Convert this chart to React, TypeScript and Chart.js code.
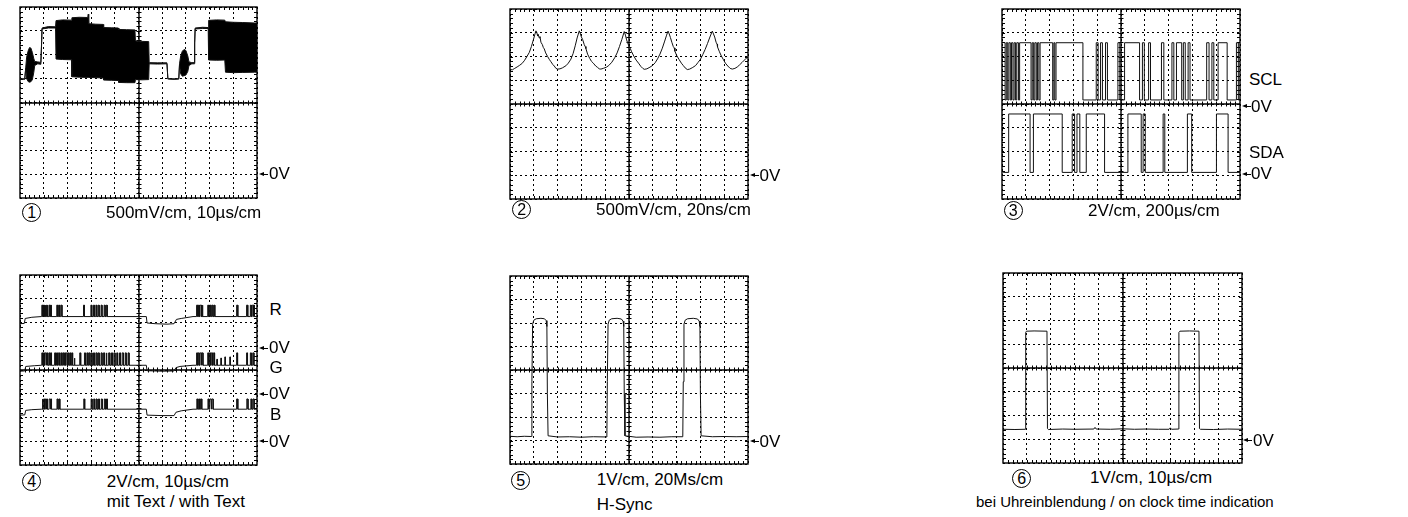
import React, { useEffect, useRef } from "react";
import { Chart, registerables } from "chart.js";

Chart.register(...registerables);

type Pt = { x: number; y: number };

// ---------- Panel 1: video signal envelope (divisions: x 0..10, y 0..8) ----------
const p1X = [0, 0.2, 0.24, 0.28, 0.34, 0.4, 0.46, 0.52, 0.58, 0.62,
  0.75, 0.88, 0.91, 0.93, 1.2, 1.5, 1.52, 1.8, 2.17, 2.19,
  2.5, 2.86, 2.88, 2.9, 3.2, 3.51, 3.53, 3.85, 4.15, 4.17,
  4.5, 4.85, 4.87, 5.15, 5.43, 5.45, 5.8, 6.2, 6.24, 6.27,
  6.5, 6.7, 6.73, 6.78, 6.85, 6.92, 7.0, 7.08, 7.13, 7.25,
  7.35, 7.37, 7.39, 7.7, 7.94, 7.96, 8.3, 8.64, 8.67, 9.0,
  9.4, 9.9, 10];
const p1Hi = [4.99, 4.99, 5.45, 5.9, 6.15, 6.3, 6.28, 6.1, 5.85, 5.72,
  5.7, 5.68, 6.5, 7.12, 7.18, 7.17, 7.43, 7.46, 7.45, 7.55,
  7.57, 7.56, 7.7, 7.3, 7.28, 7.27, 7.14, 7.13, 7.12, 7.06,
  7.05, 7.04, 6.58, 6.56, 6.55, 5.67, 5.66, 5.66, 5.0, 5.0,
  4.99, 5.0, 5.62, 5.95, 6.15, 6.22, 6.18, 5.95, 5.7, 5.67,
  5.67, 6.5, 7.12, 7.15, 7.14, 7.44, 7.46, 7.45, 7.38, 7.36,
  7.35, 7.33, 7.33];
const p1Lo = [4.99, 4.97, 5.42, 5.0, 4.88, 4.85, 4.87, 4.95, 5.25, 5.55,
  5.62, 5.6, 6.4, 7.08, 7.12, 7.12, 5.82, 5.8, 5.79, 5.08,
  5.06, 5.05, 5.05, 5.05, 5.04, 5.03, 4.94, 4.93, 4.92, 4.84,
  4.83, 4.83, 4.96, 4.95, 4.96, 5.62, 5.61, 5.62, 4.98, 4.98,
  4.97, 4.98, 5.58, 5.2, 5.1, 5.12, 5.15, 5.3, 5.55, 5.62,
  5.62, 6.45, 7.08, 7.1, 7.1, 5.78, 5.77, 5.78, 5.27, 5.25,
  5.26, 5.27, 5.27];

// ---------- Panel 2: peaked oscillation ----------
const p2X = [0, 0.1, 0.2, 0.3, 0.39, 0.5, 0.6, 0.7, 0.81, 0.9, 0.99, 1.05, 1.09,
  1.13, 1.16, 1.18, 1.23, 1.26, 1.3, 1.36, 1.4, 1.44, 1.5, 1.58, 1.65, 1.72, 1.8, 1.86, 1.93, 2.0,
  2.1, 2.2, 2.35, 2.45, 2.56, 2.65, 2.74, 2.82, 2.91,
  2.96, 3.0, 3.05, 3.12, 3.16, 3.19, 3.26, 3.35, 3.42, 3.5, 3.6, 3.68, 3.75, 3.82,
  3.92, 4.05, 4.15, 4.28, 4.4, 4.5, 4.6, 4.7, 4.8,
  4.85, 4.9, 4.95, 5.02, 5.06, 5.1, 5.2, 5.3, 5.4, 5.5, 5.58, 5.64,
  5.75, 5.88, 6.0, 6.1, 6.2, 6.3, 6.4, 6.5, 6.58, 6.64,
  6.69, 6.74, 6.8, 6.86, 6.9, 6.93, 7.0, 7.1, 7.2, 7.28, 7.36, 7.45,
  7.55, 7.68, 7.8, 7.9, 8.0, 8.1, 8.2, 8.3, 8.4, 8.5,
  8.55, 8.6, 8.66, 8.7, 8.72, 8.8, 8.88, 8.96, 9.05, 9.15, 9.25, 9.34,
  9.45, 9.55, 9.65, 9.75, 9.85, 9.93, 10];
const p2Y = [5.45, 5.44, 5.5, 5.56, 5.62, 5.7, 5.82, 5.98, 6.17, 6.42, 6.73, 6.95, 7.08,
  7.0, 6.86, 6.94, 6.78, 6.84, 6.6, 6.5, 6.38, 6.32, 6.15, 6.0, 5.88, 5.78, 5.66, 5.6, 5.5, 5.47,
  5.48, 5.52, 5.61, 5.72, 5.89, 6.12, 6.45, 6.78, 7.08,
  6.95, 6.82, 6.72, 6.5, 6.42, 6.33, 6.1, 5.92, 5.8, 5.72, 5.6, 5.54, 5.48, 5.47,
  5.5, 5.55, 5.62, 5.76, 5.95, 6.15, 6.42, 6.72, 7.05,
  6.9, 6.7, 6.55, 6.4, 6.32, 6.22, 6.02, 5.85, 5.72, 5.58, 5.5, 5.46,
  5.48, 5.55, 5.63, 5.74, 5.9, 6.1, 6.35, 6.65, 6.9, 7.07,
  6.95, 6.8, 6.6, 6.42, 6.36, 6.22, 6.05, 5.88, 5.72, 5.62, 5.52, 5.45,
  5.47, 5.54, 5.62, 5.75, 5.88, 6.08, 6.3, 6.55, 6.82, 7.07,
  6.95, 6.82, 6.6, 6.52, 6.4, 6.2, 6.02, 5.88, 5.72, 5.6, 5.5, 5.47,
  5.5, 5.56, 5.65, 5.75, 5.85, 5.93, 6.0];

// ---------- Panel 3: I2C bus (SCL / SDA), level 1 = high, 0 = low ----------
const sclHigh = 6.58;
const sclLow = 4.17;
const sclT = [0.1, 0.13, 0.18, 0.24, 0.29, 0.35, 0.4, 0.46, 0.51, 0.57, 0.62, 0.69, 0.74,
  1.22, 1.27, 1.33, 1.38, 1.44, 1.49, 1.55, 1.6,
  2.13, 2.18, 2.22, 2.27,
  3.4, 3.96, 4.04, 4.14, 4.22, 4.35, 4.43, 4.87, 4.95, 5.15, 5.78, 5.9, 5.98, 6.16, 6.24,
  6.7, 6.8, 7.14, 7.22, 7.33, 7.55, 7.62, 7.7, 7.82, 7.9, 8.6, 8.7, 8.82, 8.9, 9.08, 9.46,
  9.85, 9.93, 10];
const sclV = [1, 0, 1, 0, 1, 0, 1, 0, 1, 0, 1, 0, 1,
  0, 1, 0, 1, 0, 1, 0, 1,
  0, 1, 0, 1,
  0, 1, 0, 1, 0, 1, 0, 1, 0, 1, 0, 1, 0, 1, 0,
  1, 0, 1, 0, 1, 0, 1, 0, 1, 0, 1, 0, 1, 0, 1, 0,
  1, 0, 0];
const sdaHigh = 3.58;
const sdaLow = 1.12;
const sdaT = [0.05, 0.28, 1.18, 1.32, 2.53, 2.95, 3.05, 3.15, 3.27, 3.54, 4.31,
  5.29, 5.85, 5.93, 6.02, 6.77, 6.84, 7.79, 7.97, 9.01, 9.5, 10];
const sdaV = [0, 1, 0, 1, 0, 1, 0, 1, 0, 1, 0,
  1, 0, 1, 0, 1, 0, 1, 0, 1, 0, 0];

// ---------- Panel 4: R, G, B with text ----------
const rBase = [[0, 5.95], [0.18, 5.96], [0.22, 6.17], [0.5, 6.22], [0.9, 6.25], [5.33, 6.25],
  [5.36, 5.98], [5.7, 5.95], [6.2, 5.93], [6.5, 5.95], [6.6, 6.13], [6.8, 6.17], [7.3, 6.25], [10, 6.25]];
const rTop = 6.73;
const rPulses = [[0.92, 0.96], [0.99, 1.03], [1.06, 1.09], [1.12, 1.15], [1.22, 1.26], [1.29, 1.32],
  [1.55, 1.59], [1.63, 1.67], [1.72, 1.77], [2.68, 2.72], [2.99, 3.03], [3.1, 3.14], [3.2, 3.24],
  [3.3, 3.34], [3.42, 3.46], [3.55, 3.59], [3.64, 3.68],
  [7.45, 7.5], [7.53, 7.57], [7.6, 7.66], [7.68, 7.72], [7.92, 7.96], [8.0, 8.05], [8.09, 8.14],
  [8.18, 8.22], [9.14, 9.19], [9.56, 9.61], [9.72, 9.76], [9.8, 9.85], [9.86, 9.89]];

const gBase = [[0, 3.95], [0.2, 3.96], [0.24, 4.15], [0.6, 4.18], [0.9, 4.2], [5.33, 4.2],
  [5.36, 3.97], [6.0, 3.95], [6.5, 3.96], [6.58, 4.1], [6.75, 4.15], [7.3, 4.2], [10, 4.2]];
const gTop = 4.72;
const gPulses = [[0.92, 0.96], [0.99, 1.03], [1.06, 1.1], [1.13, 1.17], [1.22, 1.26], [1.29, 1.33],
  [1.46, 1.5], [1.54, 1.58], [1.62, 1.67], [1.72, 1.76], [1.8, 1.85], [1.88, 1.92], [1.95, 1.99],
  [2.02, 2.06], [2.1, 2.14], [2.18, 2.22], [2.28, 2.32, 4.5], [2.52, 2.56], [2.72, 2.76],
  [2.82, 2.86], [2.9, 2.95], [3.0, 3.04], [3.1, 3.14], [3.2, 3.25], [3.3, 3.34], [3.42, 3.46],
  [3.52, 3.57], [3.63, 3.67], [3.74, 3.79], [3.86, 3.9], [3.96, 4.01], [4.08, 4.12], [4.2, 4.24],
  [4.31, 4.36], [4.44, 4.48], [4.56, 4.6],
  [7.45, 7.49], [7.52, 7.56], [7.6, 7.65], [7.67, 7.72], [7.92, 7.96], [7.99, 8.04], [8.07, 8.12],
  [8.16, 8.21], [8.3, 8.33, 4.45], [8.47, 8.5, 4.5], [8.64, 8.67, 4.55], [8.85, 8.88, 4.55],
  [9.14, 9.18], [9.56, 9.6], [9.72, 9.76], [9.82, 9.87]];

const bBase = [[0, 2.1], [0.2, 2.11], [0.24, 2.3], [0.5, 2.33], [0.9, 2.35], [5.33, 2.35],
  [5.36, 2.1], [6.0, 2.08], [6.5, 2.08], [6.58, 2.22], [6.8, 2.28], [7.3, 2.35], [10, 2.35]];
const bTop = 2.78;
const bPulses = [[0.93, 0.97], [1.0, 1.04], [1.07, 1.1], [1.13, 1.16], [1.23, 1.27], [1.3, 1.33],
  [1.56, 1.6], [1.64, 1.68], [2.69, 2.73], [3.0, 3.04], [3.11, 3.15], [3.21, 3.25], [3.31, 3.35],
  [3.43, 3.47], [3.56, 3.6], [3.65, 3.69],
  [7.46, 7.5], [7.54, 7.58], [7.62, 7.67], [7.93, 7.97], [8.01, 8.06], [8.1, 8.15],
  [9.14, 9.19], [9.57, 9.62], [9.74, 9.78], [9.83, 9.88]];

// ---------- Panel 5: H-Sync ----------
const p5X = [0, 0.3, 0.6, 0.9, 0.92, 0.95, 1.0, 1.1, 1.3, 1.45, 1.52, 1.55, 1.57, 1.6,
  2.0, 2.5, 3.0, 3.5, 4.07, 4.09, 4.12, 4.17, 4.27, 4.5, 4.68, 4.75, 4.78, 4.8, 4.83,
  5.3, 5.8, 6.3, 6.8, 7.26, 7.28, 7.31, 7.36, 7.46, 7.7, 7.88, 7.95, 7.98, 8.0, 8.03,
  8.5, 9.0, 9.5, 10];
const p5Y = [1.18, 1.16, 1.18, 1.17, 3.5, 5.95, 6.12, 6.18, 6.2, 6.18, 6.1, 5.85, 3.0, 1.2,
  1.15, 1.16, 1.14, 1.16, 1.15, 3.5, 5.95, 6.12, 6.18, 6.2, 6.17, 6.08, 5.85, 3.0, 1.2,
  1.14, 1.15, 1.14, 1.16, 1.16, 3.5, 5.95, 6.12, 6.18, 6.2, 6.17, 6.08, 5.85, 3.0, 1.2,
  1.16, 1.17, 1.16, 1.17];

// ---------- Panel 6: clock time indication ----------
const p6X = [0, 0.5, 0.93, 0.95, 0.98, 1.3, 1.84, 1.86, 1.9, 2.5,
  3.0, 3.8, 3.85, 3.9, 4.5, 5.0, 5.5, 6.0, 6.5, 6.95,
  7.0, 7.05, 7.34, 7.36, 7.4, 7.8, 8.2, 8.22, 8.26, 8.8, 9.4, 10];
const p6Y = [1.42, 1.41, 1.42, 5.5, 5.55, 5.56, 5.55, 1.45, 1.41, 1.43,
  1.42, 1.43, 1.5, 1.43, 1.42, 1.44, 1.42, 1.43, 1.42, 1.42,
  1.48, 1.42, 1.43, 5.5, 5.55, 5.56, 5.55, 1.45, 1.42, 1.41, 1.43, 1.42];

// ---------- helpers ----------
const zip = (xs: number[], ys: number[]): Pt[] => xs.map((x, i) => ({ x, y: ys[i] }));
const levels = (ts: number[], vs: number[], hi: number, lo: number): Pt[] =>
  ts.map((x, i) => ({ x, y: vs[i] ? hi : lo }));
function withPulses(base: number[][], pulses: number[][], top: number): Pt[] {
  const pts: Pt[] = [];
  let pi = 0;
  for (let i = 0; i < base.length; i++) {
    const [bx, by] = base[i];
    pts.push({ x: bx, y: by });
    const nextX = i + 1 < base.length ? base[i + 1][0] : Infinity;
    while (pi < pulses.length && pulses[pi][0] < nextX) {
      const [a, b, t] = pulses[pi];
      const tt = t ?? top;
      pts.push({ x: a, y: by }, { x: a, y: tt }, { x: b, y: tt }, { x: b, y: by });
      pi++;
    }
  }
  return pts;
}

const PAD = 5;
const TRACE = "#111";

const scopeGrid = {
  id: "scopeGrid",
  beforeDatasetsDraw(chart: any) {
    const { ctx, chartArea: a, scales } = chart;
    const xs = scales.x;
    const ys = scales.y;
    ctx.save();
    ctx.strokeStyle = "#000";
    ctx.lineWidth = 1.4;
    ctx.strokeRect(a.left, a.top, a.right - a.left, a.bottom - a.top);
    const cx = Math.round(xs.getPixelForValue(5));
    const cy = Math.round(ys.getPixelForValue(4));
    ctx.beginPath();
    ctx.moveTo(cx, a.top);
    ctx.lineTo(cx, a.bottom);
    ctx.moveTo(a.left, cy);
    ctx.lineTo(a.right, cy);
    ctx.stroke();
    ctx.lineWidth = 1;
    ctx.beginPath();
    for (let i = 1; i < 50; i++) {
      const px = Math.round(xs.getPixelForValue(i * 0.2)) + 0.5;
      ctx.moveTo(px, cy - 2.5);
      ctx.lineTo(px, cy + 2.5);
      ctx.moveTo(px, a.top);
      ctx.lineTo(px, a.top + 3);
      ctx.moveTo(px, a.bottom);
      ctx.lineTo(px, a.bottom - 3);
    }
    for (let i = 1; i < 40; i++) {
      const py = Math.round(ys.getPixelForValue(i * 0.2)) + 0.5;
      ctx.moveTo(cx - 2.5, py);
      ctx.lineTo(cx + 2.5, py);
      ctx.moveTo(a.left, py);
      ctx.lineTo(a.left + 3, py);
      ctx.moveTo(a.right, py);
      ctx.lineTo(a.right - 3, py);
    }
    ctx.stroke();
    ctx.restore();
  },
};

const axis = (max: number) => ({
  type: "linear" as const,
  min: 0,
  max,
  ticks: { display: false, stepSize: 1 },
  grid: { color: "#000", lineWidth: 1, drawTicks: false },
  border: { display: false, dash: [2, 3] },
});

function line(data: Pt[], extra: any = {}) {
  return {
    data,
    borderColor: TRACE,
    borderWidth: 1,
    pointRadius: 0,
    tension: 0,
    fill: false,
    ...extra,
  };
}

type Box = [number, number, number, number];

function Scope({ box, datasets }: { box: Box; datasets: () => any[] }) {
  const ref = useRef<HTMLCanvasElement>(null);
  const [l, t, w, h] = box;
  useEffect(() => {
    const chart = new Chart(ref.current as HTMLCanvasElement, {
      type: "line",
      data: { datasets: datasets() },
      options: {
        animation: false,
        responsive: false,
        events: [],
        parsing: false as any,
        layout: { padding: PAD },
        plugins: { legend: { display: false }, tooltip: { enabled: false } },
        scales: { x: axis(10) as any, y: axis(8) as any },
      },
      plugins: [scopeGrid],
    });
    return () => chart.destroy();
  }, []);
  return (
    <canvas
      ref={ref}
      width={w + 2 * PAD}
      height={h + 2 * PAD}
      style={{ position: "absolute", left: l - PAD, top: t - PAD, width: w + 2 * PAD, height: h + 2 * PAD }}
    />
  );
}

const FONT = '"Liberation Sans", Arial, Helvetica, sans-serif';

function Txt({ x, y, size = 17, children }: { x: number; y: number; size?: number; children: any }) {
  const lh = Math.round(size * 1.2);
  return (
    <div
      style={{
        position: "absolute",
        left: x,
        top: y - lh / 2,
        fontSize: size,
        lineHeight: `${lh}px`,
        fontFamily: FONT,
        whiteSpace: "nowrap",
        color: "#000",
      }}
    >
      {children}
    </div>
  );
}

function Arrow({ x, y }: { x: number; y: number }) {
  return (
    <div style={{ position: "absolute", left: x, top: y - 2.5, width: 9, height: 5 }}>
      <div
        style={{
          position: "absolute",
          left: 0,
          top: 0,
          width: 0,
          height: 0,
          borderTop: "2.5px solid transparent",
          borderBottom: "2.5px solid transparent",
          borderRight: "5px solid #000",
        }}
      />
      <div style={{ position: "absolute", left: 4, top: 2, width: 5, height: 1, background: "#000" }} />
    </div>
  );
}

function ZeroV({ ax, tx, y }: { ax: number; tx: number; y: number }) {
  return (
    <>
      <Arrow x={ax} y={y} />
      <Txt x={tx} y={y}>0V</Txt>
    </>
  );
}

function Num({ x, y, n }: { x: number; y: number; n: string }) {
  return (
    <div
      style={{
        position: "absolute",
        left: x - 9.5,
        top: y - 9.5,
        width: 17,
        height: 17,
        border: "1px solid #000",
        borderRadius: "50%",
        fontFamily: FONT,
        fontSize: 16,
        lineHeight: "17px",
        textAlign: "center",
        color: "#000",
      }}
    >
      {n}
    </div>
  );
}

export default function App() {
  return (
    <div style={{ position: "absolute", left: 0, top: 0, width: 1408, height: 517, background: "#fff", overflow: "hidden" }}>
      <Scope
        box={[20, 7, 237, 191]}
        datasets={() => [
          line(zip(p1X, p1Lo)),
          line(zip(p1X, p1Hi), { fill: "-1", backgroundColor: "#000" }),
        ]}
      />
      <Scope box={[510, 9, 238, 190]} datasets={() => [line(zip(p2X, p2Y))]} />
      <Scope
        box={[1002, 9, 238, 190]}
        datasets={() => [
          line(levels(sclT, sclV, sclHigh, sclLow), { stepped: true }),
          line(levels(sdaT, sdaV, sdaHigh, sdaLow), { stepped: true }),
        ]}
      />
      <Scope
        box={[20, 275, 237, 190]}
        datasets={() => [
          line(withPulses(rBase, rPulses, rTop)),
          line(withPulses(gBase, gPulses, gTop)),
          line(withPulses(bBase, bPulses, bTop)),
        ]}
      />
      <Scope box={[510, 276, 238, 188]} datasets={() => [line(zip(p5X, p5Y))]} />
      <Scope box={[1003, 273, 239, 190]} datasets={() => [line(zip(p6X, p6Y))]} />

      {/* Panel 1 labels */}
      <ZeroV ax={259} tx={269} y={174} />
      <Num x={31.7} y={212.7} n="1" />
      <Txt x={106} y={213}>500mV/cm, 10µs/cm</Txt>

      {/* Panel 2 labels */}
      <ZeroV ax={750} tx={759.5} y={175.7} />
      <Num x={521.7} y={209.3} n="2" />
      <Txt x={596} y={209.5}>500mV/cm, 20ns/cm</Txt>

      {/* Panel 3 labels */}
      <Txt x={1249} y={80}>SCL</Txt>
      <ZeroV ax={1242} tx={1251} y={106.7} />
      <Txt x={1249} y={152.7}>SDA</Txt>
      <ZeroV ax={1242} tx={1251} y={174} />
      <Num x={1013.3} y={210.7} n="3" />
      <Txt x={1088} y={210.7}>2V/cm, 200µs/cm</Txt>

      {/* Panel 4 labels */}
      <Txt x={269.5} y={310}>R</Txt>
      <ZeroV ax={259} tx={269} y={348.3} />
      <Txt x={269.5} y={368.3}>G</Txt>
      <ZeroV ax={259} tx={269} y={394} />
      <Txt x={270} y={415}>B</Txt>
      <ZeroV ax={259} tx={269} y={441.7} />
      <Num x={31.7} y={481.7} n="4" />
      <Txt x={106.7} y={481.7}>2V/cm, 10µs/cm</Txt>
      <Txt x={106.7} y={501.7}>mit Text / with Text</Txt>

      {/* Panel 5 labels */}
      <ZeroV ax={750} tx={759.5} y={441.7} />
      <Num x={520.7} y={480} n="5" />
      <Txt x={596.7} y={480}>1V/cm, 20Ms/cm</Txt>
      <Txt x={596.7} y={505}>H-Sync</Txt>

      {/* Panel 6 labels */}
      <ZeroV ax={1243} tx={1253} y={440.7} />
      <Num x={1021.7} y={478.3} n="6" />
      <Txt x={1090} y={478.3}>1V/cm, 10µs/cm</Txt>
      <Txt x={976} y={502} size={15}>bei Uhreinblendung / on clock time indication</Txt>
    </div>
  );
}
